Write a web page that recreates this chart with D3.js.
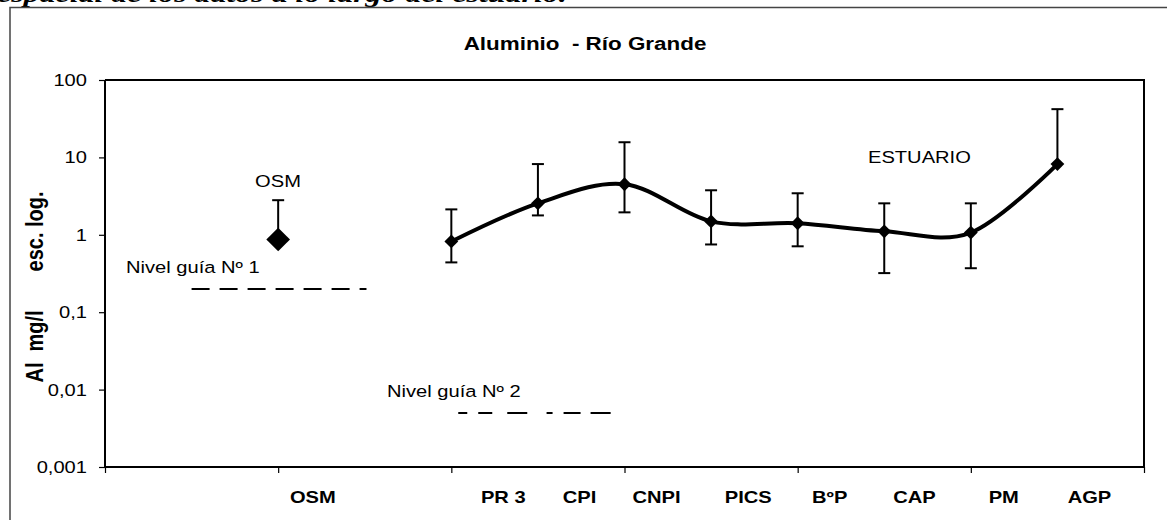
<!DOCTYPE html>
<html><head><meta charset="utf-8">
<script src="https://cdn.jsdelivr.net/npm/d3@7"></script>
<style>
html,body{margin:0;padding:0;background:#fff;}
svg{display:block;}
text{font-family:"Liberation Sans",Arial,sans-serif;fill:#000;white-space:pre;}
</style></head>
<body>
<script>
// ---------- data ----------
const slotCount = 12;                       // category slots on the x axis (0..12)
const sites = ["OSM","PR 3","CPI","CNPI","PICS","BºP","CAP","PM","AGP"];
const siteSlot = [2,4,5,6,7,8,9,10,11];
const labelSlot = [2.40,4.60,5.48,6.37,7.43,8.37,9.35,10.38,11.37];
const osmValue = 0.87, osmUpper = 2.8;
const estuarySites = ["PR 3","CPI","CNPI","PICS","BºP","CAP","PM","AGP"];
const estuaryValues = [0.82, 2.55, 4.5, 1.49, 1.41, 1.11, 1.07, 8.2];
const estuaryUpper  = [2.13, 8.2, 15.7, 3.76, 3.44, 2.55, 2.55, 42];
const estuaryLower  = [0.44, 1.78, 1.95, 0.75, 0.71, 0.32, 0.37, null];
const yTicks = [0.001, 0.01, 0.1, 1, 10, 100];
const yTickLabels = ["0,001","0,01","0,1","1","10","100"];
const nivel1 = {value:0.2, from:1.0, to:3.02};
const nivel2 = {value:0.005, segments:[[4.08,4.88],[5.10,5.84]]};

// ---------- layout ----------
const W=1167,H=520, L=105, R=1144, T=80, B=467, SX=1.22;
const svg=d3.select("body").append("svg").attr("width",W).attr("height",H);
const x=d3.scaleLinear().domain([0,slotCount]).range([L,R]);
const y=d3.scaleLog().domain([0.001,100]).range([B,T]);

function txt(px,py,s,o={}){
  const t=svg.append("text").attr("transform",`translate(${px},${py}) scale(${o.sx||SX},1)`)
   .attr("font-size",o.size||16.5).attr("font-weight",o.bold?"bold":"normal")
   .attr("text-anchor",o.anchor||"start").text(s);
  if(o.italic) t.attr("font-style","italic");
  if(o.family) t.style("font-family",o.family);
  return t;
}

// header fragment (cut off at top, as in the source page)
txt(-3,1.5,"espacial de los datos a lo largo del estuario.",{size:24,bold:true,italic:true,family:"'Liberation Serif','Times New Roman',serif",sx:1.33});

// outer frame
svg.append("path").attr("d",`M10,520V7.5H${W}`).attr("fill","none").attr("stroke","#444").attr("stroke-width",1.5);

// title
txt(585,50,"Aluminio  - Río Grande",{size:19,bold:true,anchor:"middle",sx:1.18});

// plot frame top/right
svg.append("path").attr("d",`M${L},${T}H${R}V${B}`).attr("fill","none").attr("stroke","#000").attr("stroke-width",2);

// y axis
const yAxis=svg.append("g").attr("transform",`translate(${L},0)`)
  .call(d3.axisLeft(y).tickValues(yTicks).tickSize(6).tickFormat(""));
yAxis.select(".domain").attr("stroke","#000").attr("stroke-width",2).attr("d",`M0,${T}V${B}`);
yAxis.selectAll(".tick line").attr("stroke","#000").attr("stroke-width",1.2);
yTicks.forEach((v,i)=>txt(L-18,y(v)+6,yTickLabels[i],{anchor:"end"}));

// x axis
const xAxis=svg.append("g").attr("transform",`translate(0,${B})`)
  .call(d3.axisBottom(x).tickValues(d3.range(0,slotCount+1,2)).tickSize(6).tickFormat(""));
xAxis.select(".domain").attr("stroke","#000").attr("stroke-width",2).attr("d",`M${L},0H${R}`);
xAxis.selectAll(".tick line").attr("stroke","#000").attr("stroke-width",1.2);
sites.forEach((s,i)=>txt(x(labelSlot[i]),503,s,{bold:true,anchor:"middle"}));

// y title
svg.append("text").attr("transform",`translate(43,287) rotate(-90) scale(1,${SX})`)
  .attr("font-size",20).attr("font-weight","bold").attr("text-anchor","middle")
  .text("Al  mg/l       esc. log.");

// guide levels
svg.append("line").attr("x1",x(nivel1.from)).attr("x2",x(nivel1.to))
  .attr("y1",y(nivel1.value)).attr("y2",y(nivel1.value))
  .attr("stroke","#000").attr("stroke-width",2).attr("stroke-dasharray","18,10");
nivel2.segments.forEach((s,i)=>{
  svg.append("line").attr("x1",x(s[0])).attr("x2",x(s[1]))
   .attr("y1",y(nivel2.value)).attr("y2",y(nivel2.value))
   .attr("stroke","#000").attr("stroke-width",2)
   .attr("stroke-dasharray", i===0?"9,11,14,15,20,10":"6,11,17,10,21,10");
});
txt(126,273,"Nivel guía Nº 1");
txt(387,397,"Nivel guía Nº 2");
txt(278,187,"OSM",{anchor:"middle"});
txt(868,163,"ESTUARIO");

// error bars helper
function errBar(cx, v, up, lo){
  const top = up!=null ? y(up) : y(v);
  const bot = lo!=null ? y(lo) : y(v);
  svg.append("line").attr("x1",cx).attr("x2",cx).attr("y1",top).attr("y2",bot).attr("stroke","#000").attr("stroke-width",2);
  if(up!=null) svg.append("line").attr("x1",cx-6).attr("x2",cx+6).attr("y1",top).attr("y2",top).attr("stroke","#000").attr("stroke-width",2);
  if(lo!=null) svg.append("line").attr("x1",cx-6).attr("x2",cx+6).attr("y1",bot).attr("y2",bot).attr("stroke","#000").attr("stroke-width",2);
}

// OSM point
errBar(x(siteSlot[0]), osmValue, osmUpper, null);
svg.append("path").attr("d",d3.symbol(d3.symbolSquare,280)())
  .attr("transform",`translate(${x(siteSlot[0])},${y(osmValue)}) rotate(45)`).attr("fill","#000");

// estuary series
const est = estuaryValues.map((v,i)=>({slot:siteSlot[i+1],v,up:estuaryUpper[i],lo:estuaryLower[i]}));
est.forEach(d=>errBar(x(d.slot),d.v,d.up,d.lo));
svg.append("path").datum(est)
  .attr("d",d3.line().x(d=>x(d.slot)).y(d=>y(d.v)).curve(d3.curveCardinal.tension(0)))
  .attr("fill","none").attr("stroke","#000").attr("stroke-width",4).attr("stroke-linejoin","round");
svg.selectAll(".mk").data(est).enter().append("path")
  .attr("d",d3.symbol(d3.symbolSquare,95)())
  .attr("transform",d=>`translate(${x(d.slot)},${y(d.v)}) rotate(45)`).attr("fill","#000");
</script>
</body></html>
